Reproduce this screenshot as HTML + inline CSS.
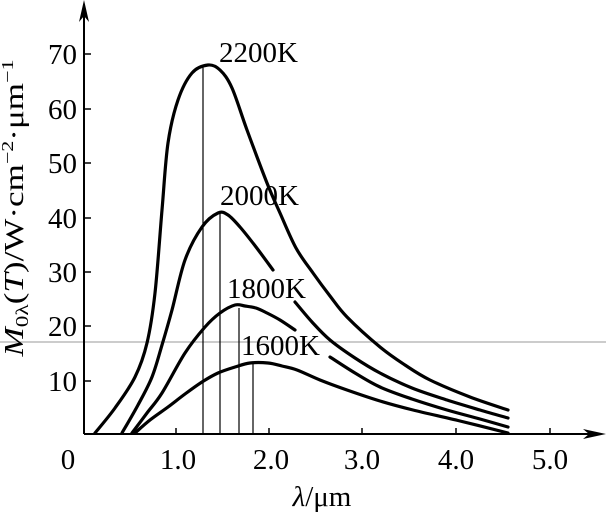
<!DOCTYPE html>
<html><head><meta charset="utf-8"><style>html,body{margin:0;padding:0;background:#fff}svg{display:block}</style></head>
<body>
<svg id="s" width="606" height="513" viewBox="0 0 606 513" xmlns="http://www.w3.org/2000/svg" font-family="Liberation Serif, serif">
<rect width="606" height="513" fill="#fff"/>
<line x1="0" y1="342" x2="606" y2="342" stroke="#999" stroke-width="1"/>
<line x1="84" y1="434" x2="84" y2="8" stroke="#000" stroke-width="2"/>
<path d="M84,0 L79,22 L84,16 L89,22 Z" fill="#000"/>
<line x1="84" y1="434" x2="598" y2="434" stroke="#000" stroke-width="2"/>
<path d="M606,434 L583,429 L589,434 L583,439 Z" fill="#000"/>
<g stroke="#000" stroke-width="1.5">
<line x1="84" y1="381" x2="91" y2="381"/><line x1="84" y1="326" x2="91" y2="326"/><line x1="84" y1="272" x2="91" y2="272"/><line x1="84" y1="218" x2="91" y2="218"/><line x1="84" y1="163" x2="91" y2="163"/><line x1="84" y1="109" x2="91" y2="109"/><line x1="84" y1="54" x2="91" y2="54"/>
<line x1="176" y1="434" x2="176" y2="428"/><line x1="269" y1="434" x2="269" y2="428"/><line x1="362" y1="434" x2="362" y2="428"/><line x1="456" y1="434" x2="456" y2="428"/><line x1="550" y1="434" x2="550" y2="428"/>
</g>
<g font-size="29" text-anchor="end" fill="#000">
<text x="77" y="391">10</text><text x="77" y="336">20</text><text x="77" y="282">30</text><text x="77" y="228">40</text><text x="77" y="173">50</text><text x="77" y="119">60</text><text x="77" y="64">70</text>
</g>
<g font-size="29" text-anchor="middle" fill="#000">
<text x="68" y="469">0</text><text x="178" y="469">1.0</text><text x="271" y="469">2.0</text><text x="362" y="469">3.0</text><text x="456" y="469">4.0</text><text x="550" y="469">5.0</text>
<text x="322" y="506"><tspan font-style="italic">λ</tspan>/μm</text>
</g>
<text transform="translate(23,208) rotate(-90)" font-size="27" text-anchor="middle" fill="#000" textLength="297" lengthAdjust="spacingAndGlyphs"><tspan font-style="italic">M</tspan><tspan font-size="18" dy="5">0λ</tspan><tspan dy="-5">(</tspan><tspan font-style="italic">T</tspan>)/W·cm<tspan font-size="17" dy="-10">−2</tspan><tspan dy="10">·μm</tspan><tspan font-size="17" dy="-10">−1</tspan></text>
<g stroke="#000" stroke-width="1.2">
<line x1="203" y1="434" x2="203" y2="66"/><line x1="220" y1="434" x2="220" y2="213"/><line x1="239" y1="434" x2="239" y2="308"/><line x1="253" y1="434" x2="253" y2="364"/>
</g>
<g id="curves" fill="none" stroke="#000" stroke-width="3.2" stroke-linejoin="round" stroke-linecap="round">
<polyline points="95,433 115,408 135,377 147,343 155,293 162,210 168,143 178,100 192,73 208,65 220,70 232,88 247,130 267,183 280,213 296,248 313,273 330,296 347,317 380,347 405,365 430,380 470,397 508,410"/>
<polyline points="122,433 138,405 152,377 162,345 172,310 185,260 202,227 218,213 228,215 240,227 256,247 273,270"/>
<polyline points="295,302 312,322 330,340 355,358 380,373 412,388 447,400 480,410 508,418"/>
<polyline points="132,433 147,413 162,393 185,353 205,327 220,313 235,305 245,306 256,308 267,313 280,320 295,330"/>
<polyline points="330,357 355,373 380,387 412,399 447,410 480,419 508,427"/>
<polyline points="135,433 150,420 168,407 185,394 202,382 218,373 235,367 250,363 268,363 282,366 297,370 320,380 347,390 380,401 413,410 460,421 508,433"/>
</g>
<g font-size="29" fill="#000">
<text x="219" y="62">2200K</text>
<text x="220" y="205">2000K</text>
<text x="227" y="298">1800K</text>
<text x="241" y="355">1600K</text>
</g>
</svg>
<script>
(function(){
var ns="http://www.w3.org/2000/svg";
var pls=document.querySelectorAll("#curves polyline");
for(var k=0;k<pls.length;k++){
 var pl=pls[k];
 var p=pl.getAttribute("points").trim().split(/\s+/).map(function(s){var a=s.split(",");return [+a[0],+a[1]];});
 var d="M"+p[0][0]+","+p[0][1];
 for(var i=0;i<p.length-1;i++){
  var p0=p[i-1]||p[i],p1=p[i],p2=p[i+1],p3=p[i+2]||p2;
  var c1=[p1[0]+(p2[0]-p0[0])/6,p1[1]+(p2[1]-p0[1])/6];
  var c2=[p2[0]-(p3[0]-p1[0])/6,p2[1]-(p3[1]-p1[1])/6];
  d+=" C"+c1[0]+","+c1[1]+" "+c2[0]+","+c2[1]+" "+p2[0]+","+p2[1];
 }
 var path=document.createElementNS(ns,"path");
 path.setAttribute("d",d);
 pl.parentNode.replaceChild(path,pl);
}
})();
</script>
</body></html>
